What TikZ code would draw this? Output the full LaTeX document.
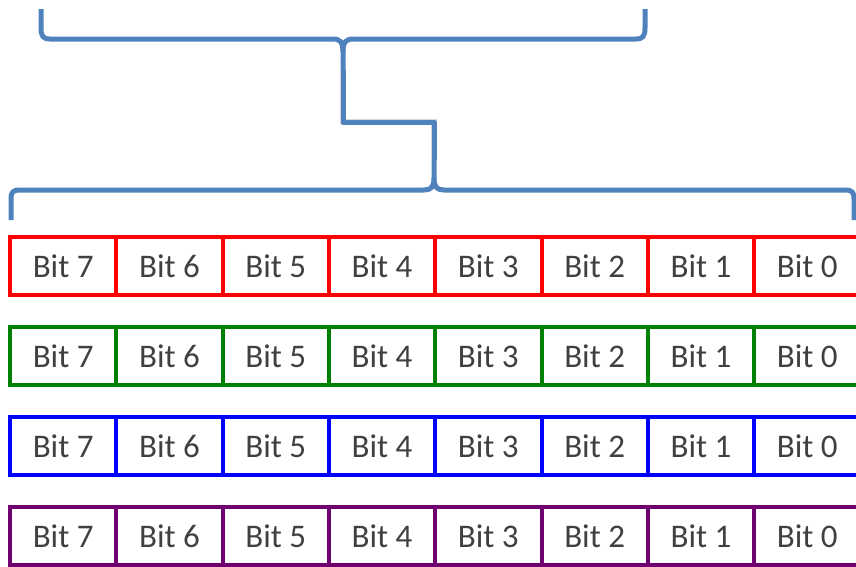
\documentclass[tikz,border=0pt]{standalone}
\usepackage{fontspec}
\setmainfont{Carlito}
\definecolor{braceblue}{RGB}{79,129,189}
\definecolor{bitgray}{RGB}{64,64,64}
\definecolor{rowgreen}{RGB}{0,128,0}
\definecolor{rowpurple}{RGB}{112,0,112}

\begin{document}
\begin{tikzpicture}[x=1pt,y=-1pt,
    cell/.style={draw,line width=4pt,minimum width=106.3pt,minimum height=58pt,inner sep=0pt,text=bitgray,font=\fontsize{33}{38}\selectfont},
    brace/.style={draw=braceblue,line width=5pt,line join=round}]
  \useasboundingbox (0,0) rectangle (856,566);
  \clip (0,0) rectangle (856,566);
  \coordinate (topTip) at (343,70);
  \coordinate (bend) at (343,122);
  \coordinate (lowTip) at (434,160);
  % upper brace
  \draw [brace] (41,9) -- (41,28) .. controls (41,36) and (43,39) .. (50,39) -- (333,39) .. controls (340,39) and (343,42) .. (343,52) -- (topTip);
  \draw [brace] (645,9) -- (645,28) .. controls (645,36) and (643,39) .. (636,39) -- (353,39) .. controls (346,39) and (343,42) .. (343,52);
  % connector
  \draw [line width=5.5pt, black!30, opacity=.5, shift={(1.5,1.5)}] (topTip) -- (bend) -| (lowTip);
  \draw [brace] (topTip) -- (bend) -| (lowTip);
  % lower brace
  \draw [brace] (11,220) -- (11,199) .. controls (11,192) and (13,190) .. (20,190) -- (424,190) .. controls (431,190) and (434,187) .. (434,178) -- (lowTip);
  \draw [brace] (854,220) -- (854,199) .. controls (854,192) and (852,190) .. (845,190) -- (444,190) .. controls (437,190) and (434,187) .. (434,178);
  % bit rows
  \foreach \col/\y [count=\r] in {red/266,rowgreen/356,blue/446,rowpurple/536}
    \foreach \b in {0,...,7}
      \node [cell,draw=\col] (c\r-\b) at ({63.15+106.3*(7-\b)},\y) {Bit \b};
\end{tikzpicture}
\end{document}
